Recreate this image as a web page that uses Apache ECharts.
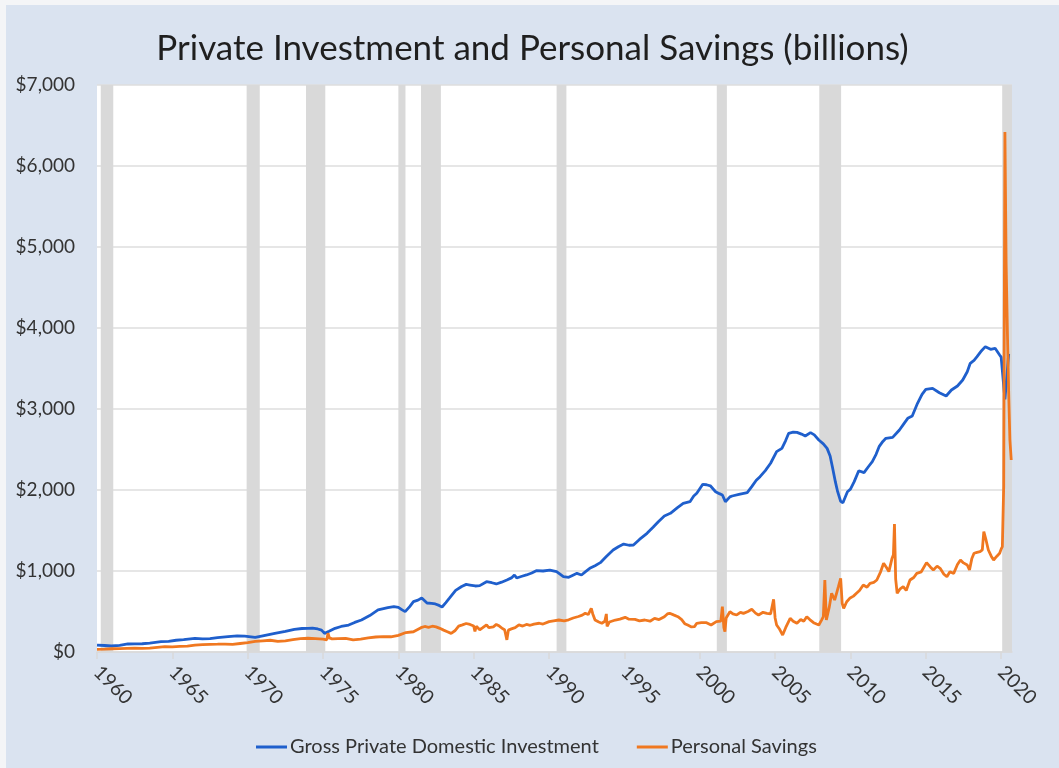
<!DOCTYPE html>
<html>
<head>
<meta charset="utf-8">
<title>Private Investment and Personal Savings</title>
<script src="https://cdn.jsdelivr.net/npm/echarts@6/dist/echarts.min.js"></script>
<style>
    html, body { margin: 0; padding: 0; background: #f4f5f7; }
    #chart { position: absolute; left: 6px; top: 5px; width: 1053px; height: 763px; }
</style>
</head>
<body>
<div id="chart"></div>
<script>

// x values are decimal years
var yearTicks = [1960, 1965, 1970, 1975, 1980, 1985, 1990, 1995, 2000, 2005, 2010, 2015, 2020];

// recession shading [start, end]
var recessions = [
    [1960.25, 1961.08], [1969.93, 1970.8], [1973.87, 1975.15], [1980.0, 1980.47],
    [1981.5, 1982.82], [1990.5, 1991.15], [2001.13, 2001.8], [2007.93, 2009.38],
    [2020.07, 2020.72]
];

// Gross Private Domestic Investment (billions)
var investDates = [
    1960.0, 1960.5, 1960.95, 1961.5, 1962.05, 1962.5, 1963.0, 1963.5, 1964.25, 1964.75,
    1965.25, 1965.75, 1966.5, 1967.0, 1967.5, 1968.0, 1968.7, 1969.3, 1969.8, 1970.5,
    1971.0, 1971.8, 1972.5, 1973.1, 1973.6, 1974.0, 1974.3, 1974.65, 1974.9, 1975.1,
    1975.4, 1975.8, 1976.2, 1976.7, 1977.1, 1977.55, 1978.1, 1978.65, 1979.3, 1979.7,
    1980.0, 1980.25, 1980.45, 1980.75, 1981.0, 1981.3, 1981.55, 1981.9, 1982.2, 1982.45,
    1982.7, 1982.9, 1983.15, 1983.4, 1983.8, 1984.2, 1984.5, 1984.75, 1985.1, 1985.4,
    1985.85, 1986.2, 1986.5, 1986.85, 1987.2, 1987.5, 1987.7, 1987.85, 1988.2, 1988.5,
    1988.85, 1989.15, 1989.6, 1990.05, 1990.5, 1990.95, 1991.3, 1991.55, 1991.85, 1992.15,
    1992.4, 1992.7, 1993.05, 1993.4, 1993.8, 1994.25, 1994.6, 1994.95, 1995.3, 1995.6,
    1996.0, 1996.5, 1996.9, 1997.25, 1997.65, 1998.05, 1998.5, 1998.9, 1999.35, 1999.6,
    1999.8, 2000.2, 2000.45, 2000.7, 2001.05, 2001.3, 2001.5, 2001.7, 2002.0, 2002.15,
    2002.6, 2003.15, 2003.45, 2003.75, 2004.0, 2004.35, 2004.7, 2005.1, 2005.45, 2005.7,
    2005.9, 2006.2, 2006.45, 2006.75, 2007.0, 2007.35, 2007.6, 2007.9, 2008.2, 2008.45,
    2008.65, 2008.8, 2009.0, 2009.15, 2009.35, 2009.5, 2009.8, 2010.0, 2010.25, 2010.55,
    2010.9, 2011.2, 2011.45, 2011.7, 2011.9, 2012.15, 2012.35, 2012.8, 2013.05, 2013.25,
    2013.55, 2013.8, 2014.1, 2014.45, 2014.75, 2015.0, 2015.45, 2015.9, 2016.35, 2016.7,
    2017.1, 2017.45, 2017.75, 2017.95, 2018.2, 2018.4, 2018.7, 2018.95, 2019.3, 2019.6,
    2019.9, 2020.0, 2020.25, 2020.5
];
var investValues = [
    86, 80, 74, 82, 99, 100, 102, 110, 127, 132,
    145, 152, 169, 162, 165, 178, 189, 198, 195, 181,
    200, 230, 255, 280, 290, 292, 296, 284, 270, 230,
    255, 292, 315, 333, 365, 395, 450, 519, 547, 560,
    551, 520, 498, 560, 621, 640, 667, 605, 600, 593,
    575, 556, 610, 667, 760, 809, 835, 827, 815, 819,
    868, 855, 840, 862, 889, 915, 951, 914, 935, 951,
    975, 1004, 1000, 1012, 992, 930, 922, 945, 971, 951,
    990, 1033, 1065, 1103, 1180, 1259, 1300, 1333, 1318, 1321,
    1390, 1465, 1540, 1609, 1680, 1712, 1780, 1835, 1856, 1926,
    1959, 2070, 2065, 2052, 1979, 1955, 1938, 1856, 1915, 1926,
    1945, 1967, 2041, 2120, 2165, 2240, 2330, 2473, 2514, 2610,
    2700, 2715, 2712, 2690, 2667, 2708, 2680, 2617, 2570, 2514,
    2420, 2288, 2100, 1979, 1860, 1843, 1979, 2010, 2103, 2238,
    2214, 2290, 2350, 2440, 2535, 2600, 2638, 2650, 2700, 2741,
    2820, 2885, 2914, 3070, 3180, 3243, 3255, 3201, 3160, 3235,
    3284, 3358, 3460, 3564, 3600, 3646, 3720, 3770, 3737, 3749,
    3667, 3640, 3120, 3680
];

// Personal Savings (billions)
var savingsDates = [
    1960.0, 1960.5, 1961.0, 1961.5, 1962.0, 1962.5, 1963.0, 1963.5, 1964.0, 1964.5,
    1965.0, 1965.5, 1966.0, 1966.5, 1967.0, 1967.5, 1968.0, 1968.5, 1969.0, 1969.5,
    1970.0, 1970.5, 1971.0, 1971.5, 1972.0, 1972.5, 1973.0, 1973.5, 1974.0, 1974.5,
    1975.0, 1975.25, 1975.33, 1975.42, 1975.6, 1976.0, 1976.5, 1977.0, 1977.5, 1978.0,
    1978.5, 1979.0, 1979.5, 1980.0, 1980.5, 1981.0, 1981.5, 1981.75, 1982.0, 1982.25,
    1982.5, 1982.75, 1983.0, 1983.25, 1983.5, 1983.75, 1984.0, 1984.25, 1984.5, 1984.75,
    1985.0, 1985.08, 1985.17, 1985.4, 1985.6, 1985.85, 1986.0, 1986.3, 1986.5, 1986.7,
    1986.9, 1987.05, 1987.2, 1987.3, 1987.5, 1987.75, 1988.0, 1988.25, 1988.5, 1988.75,
    1989.0, 1989.35, 1989.6, 1990.0, 1990.3, 1990.65, 1991.0, 1991.3, 1991.6, 1991.95,
    1992.2, 1992.4, 1992.6, 1992.8, 1992.9, 1993.05, 1993.3, 1993.5, 1993.7, 1993.8,
    1993.85, 1994.0, 1994.4, 1994.7, 1995.05, 1995.3, 1995.7, 1996.0, 1996.35, 1996.7,
    1997.0, 1997.3, 1997.65, 1997.85, 1998.0, 1998.3, 1998.55, 1998.8, 1999.0, 1999.2,
    1999.45, 1999.65, 1999.8, 2000.1, 2000.45, 2000.75, 2001.1, 2001.4, 2001.5, 2001.6,
    2001.67, 2001.75, 2002.0, 2002.2, 2002.45, 2002.7, 2002.9, 2003.2, 2003.45, 2003.7,
    2003.9, 2004.2, 2004.45, 2004.7, 2004.9, 2005.0, 2005.1, 2005.3, 2005.5, 2005.7,
    2006.0, 2006.2, 2006.45, 2006.7, 2006.9, 2007.1, 2007.3, 2007.55, 2007.75, 2007.9,
    2008.1, 2008.2, 2008.3, 2008.4, 2008.6, 2008.75, 2008.95, 2009.1, 2009.2, 2009.35,
    2009.45, 2009.55, 2009.75, 2009.95, 2010.2, 2010.4, 2010.6, 2010.85, 2011.1, 2011.3,
    2011.55, 2011.75, 2012.0, 2012.2, 2012.4, 2012.55, 2012.75, 2012.85, 2012.92, 2013.0,
    2013.1, 2013.3, 2013.5, 2013.7, 2013.95, 2014.2, 2014.4, 2014.7, 2015.05, 2015.3,
    2015.5, 2015.75, 2015.95, 2016.2, 2016.4, 2016.6, 2016.85, 2017.1, 2017.3, 2017.5,
    2017.75, 2017.9, 2018.05, 2018.2, 2018.4, 2018.6, 2018.75, 2018.85, 2019.0, 2019.15,
    2019.35, 2019.5, 2019.7, 2019.9, 2020.0, 2020.08, 2020.17, 2020.25, 2020.33, 2020.42,
    2020.5, 2020.58, 2020.67
];
var savingsValues = [
    33, 35, 40, 42, 45, 46, 44, 48, 58, 66,
    64, 70, 72, 84, 92, 95, 96, 98, 94, 105,
    115, 130, 138, 145, 132, 138, 152, 165, 170, 165,
    158, 150, 232, 175, 162, 165, 168, 150, 160, 175,
    185, 190, 188, 205, 240, 250, 300, 315, 305, 318,
    310, 292, 270, 250, 230, 262, 320, 335, 352, 340,
    320, 255, 318, 275, 300, 335, 300, 310, 340, 320,
    290, 275, 150, 270, 285, 300, 335, 320, 340, 330,
    345, 355, 345, 375, 385, 395, 385, 398, 420, 438,
    455, 478, 462, 540, 470, 395, 370, 355, 380, 470,
    315, 370, 395, 405, 428, 405, 403, 385, 395, 380,
    416, 400, 436, 470, 478, 455, 436, 400, 350, 333,
    310, 313, 354, 362, 362, 333, 375, 380, 560, 300,
    251, 420, 498, 470, 457, 490, 477, 500, 527, 480,
    457, 490, 477, 470, 650, 420, 333, 280, 210, 300,
    416, 380, 354, 400, 380, 436, 400, 362, 345, 333,
    400, 436, 889, 395, 560, 725, 642, 740, 806, 910,
    600, 539, 620, 663, 690, 725, 760, 827, 800, 848,
    860, 889, 990, 1095, 1040, 992, 1150, 1200, 1580, 900,
    725, 780, 806, 760, 889, 920, 971, 990, 1103, 1050,
    1012, 1060, 1033, 960, 930, 990, 971, 1080, 1136, 1100,
    1074, 1012, 1150, 1219, 1230, 1238, 1260, 1485, 1380, 1259,
    1180, 1136, 1180, 1219, 1270, 1300, 2050, 6420, 4800, 3900,
    3200, 2620, 2370
];

var fontFamily = 'Lato, "Open Sans", sans-serif';

function pairs(xs, ys) {
    var out = [];
    for (var i = 0; i < xs.length; i++) {
        out.push([xs[i], ys[i]]);
    }
    return out;
}

var chart = echarts.init(document.getElementById('chart'), null, { renderer: 'canvas' });

var option = {
    backgroundColor: '#dae3f0',
    animation: false,
    title: {
        text: 'Private Investment and Personal Savings (billions)',
        left: 'center',
        top: 21,
        textStyle: {
            fontFamily: fontFamily,
            fontSize: 35,
            fontWeight: 'normal',
            color: '#1f1f1f'
        }
    },
    legend: {
        left: 245,
        top: 727,
        icon: 'rect',
        itemWidth: 31,
        itemHeight: 3,
        itemGap: 38,
        textStyle: {
            fontFamily: fontFamily,
            fontSize: 20,
            color: '#333',
            padding: [0, 0, 0, -2]
        },
        data: ['Gross Private Domestic Investment', 'Personal Savings']
    },
    grid: {
        left: 91,
        top: 80,
        right: 47,
        bottom: 116,
        show: true,
        backgroundColor: '#fff',
        borderWidth: 0
    },
    xAxis: {
        type: 'value',
        min: 1960,
        max: 2020.72,
        interval: 5,
        axisLine: { lineStyle: { color: '#d9d9d9', width: 1.5 } },
        axisTick: {
            length: 7,
            lineStyle: { color: '#d9d9d9', width: 1.5 },
            customValues: yearTicks
        },
        axisLabel: {
            rotate: -45,
            margin: 17,
            fontFamily: fontFamily,
            fontSize: 19.5,
            color: '#333',
            customValues: yearTicks,
            formatter: function (v) { return String(v); }
        },
        splitLine: { show: false }
    },
    yAxis: {
        type: 'value',
        min: 0,
        max: 7000,
        interval: 1000,
        axisLine: { show: false },
        axisTick: { show: false },
        axisLabel: {
            margin: 22,
            fontFamily: fontFamily,
            fontSize: 19,
            color: '#333',
            formatter: function (v) {
                return '$' + v.toLocaleString('en-US');
            }
        },
        splitLine: { lineStyle: { color: '#dedede', width: 1.5 } }
    },
    series: [{
        name: 'recessions',
        type: 'line',
        data: [],
        z: 1,
        silent: true,
        markArea: {
            silent: true,
            itemStyle: { color: '#d9d9d9', opacity: 1 },
            data: recessions.map(function (r) {
                return [{ xAxis: r[0] }, { xAxis: r[1] }];
            })
        }
    }, {
        name: 'Gross Private Domestic Investment',
        type: 'line',
        z: 3,
        symbol: 'none',
        color: '#1f5fcc',
        lineStyle: { width: 2.8, color: '#1f5fcc' },
        data: pairs(investDates, investValues)
    }, {
        name: 'Personal Savings',
        type: 'line',
        z: 4,
        symbol: 'none',
        color: '#f07820',
        lineStyle: { width: 2.8, color: '#f07820' },
        data: pairs(savingsDates, savingsValues)
    }]
};

chart.setOption(option);

</script>
</body>
</html>
